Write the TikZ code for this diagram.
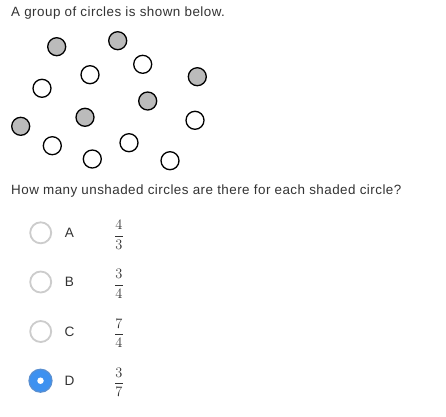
\documentclass[tikz,border=0pt]{standalone}
\usepackage{fontspec}
\setmainfont{Liberation Sans}[LetterSpace=3.5]
\usepackage{amsmath}
\begin{document}
\begin{tikzpicture}[x=1pt,y=-1pt,
  txt/.style={font=\fontsize{13.4}{15}\selectfont, text=txtc, inner sep=0pt, anchor=base west},
  shaded/.style={circle, draw=black, line width=1.3pt, fill=shadec, minimum size=18pt, inner sep=0pt},
  unshaded/.style={circle, draw=black, line width=1.3pt, fill=white, minimum size=18pt, inner sep=0pt},
  radio/.style={circle, draw=radioc, line width=1.8pt, fill=white, minimum size=21pt, inner sep=0pt},
  letter/.style={font=\fontsize{13.6}{15}\selectfont, text=txtc, inner sep=0pt},
  frac/.style={font=\fontsize{15}{16}\selectfont, text=txtc, inner sep=0pt}]
\definecolor{txtc}{HTML}{333333}
\definecolor{shadec}{HTML}{BBBBBB}
\definecolor{radioc}{HTML}{CCCCCC}
\definecolor{bluec}{HTML}{3D91F0}
\definecolor{bluering}{HTML}{5A8FD0}
\useasboundingbox[fill=white] (0,0) rectangle (446,416);
\node[txt] (title) at (11,16) {A group of circles is shown below.};
% shaded circles
\node[shaded] (s1) at (56.7,46.7) {};
\node[shaded] (s2) at (117.7,40.7) {};
\node[shaded] (s3) at (197.3,76.7) {};
\node[shaded] (s4) at (147.7,101) {};
\node[shaded] (s5) at (85,117.3) {};
\node[shaded] (s6) at (20.7,126.3) {};
% unshaded circles
\node[unshaded] (u1) at (142.7,64.3) {};
\node[unshaded] (u2) at (90,74.7) {};
\node[unshaded] (u3) at (42,88.3) {};
\node[unshaded] (u4) at (195,120.3) {};
\node[unshaded] (u5) at (52.3,145.7) {};
\node[unshaded] (u6) at (129,142.7) {};
\node[unshaded] (u7) at (92.3,159) {};
\node[unshaded] (u8) at (170,160.7) {};
\node[txt] (question) at (11,194) {How many unshaded circles are there for each shaded circle?};
% options
\node[radio] (ra) at (40.7,232.8) {};
\node[radio] (rb) at (40.7,282) {};
\node[radio] (rc) at (40.7,331.5) {};
\node[circle, draw=bluering, line width=1.2pt, fill=bluec, minimum size=23pt, inner sep=0pt] (rd) at (40.5,380.7) {};
\node[circle, fill=white, minimum size=6.5pt, inner sep=0pt] (rddot) at (rd.center) {};
\node[letter] (la) at (69.5,232.8) {A};
\node[letter] (lb) at (69.5,282) {B};
\node[letter] (lc) at (69.5,331.5) {C};
\node[letter] (ld) at (69.5,380.7) {D};
\node[frac] (fa) at (119,235) {$\dfrac{4}{3}$};
\node[frac] (fb) at (119,284) {$\dfrac{3}{4}$};
\node[frac] (fc) at (119,333.5) {$\dfrac{7}{4}$};
\node[frac] (fd) at (119,382.5) {$\dfrac{3}{7}$};
\end{tikzpicture}
\end{document}
